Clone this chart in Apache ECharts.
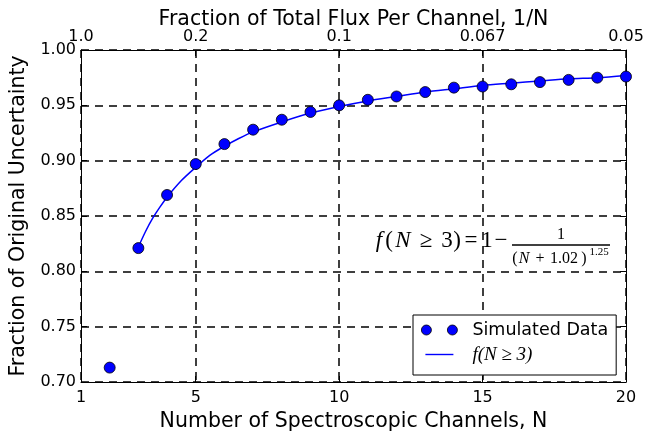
<!DOCTYPE html>
<html>
<head>
<meta charset="utf-8">
<script src="https://cdn.jsdelivr.net/npm/echarts@6/dist/echarts.min.js"></script>
<style>
html,body{margin:0;padding:0;background:#fff;}
#chart{width:646px;height:432px;}
</style>
</head>
<body>
<div id="chart"></div>
<script>
// ---- data ----
const channels = [2,3,4,5,6,7,8,9,10,11,12,13,14,15,16,17,18,19,20];
const simulated = [0.713,0.821,0.869,0.897,0.915,0.928,0.937,0.944,0.950,0.955,0.958,0.962,0.966,0.967,0.969,0.971,0.973,0.975,0.976];
const fitN = [3,3.25,3.5,3.75,4,4.5,5,5.5,6,6.5,7,8,9,10,11,12,13,14,15,16,17,18,19,20];
const fitValues = [0.822,0.836,0.848,0.858,0.867,0.882,0.894,0.905,0.913,0.920,0.926,0.935,0.943,0.949,0.954,0.958,0.962,0.965,0.968,0.970,0.972,0.974,0.975,0.977];
const bottomTicks = [1,5,10,15,20];
const topTickLabels = ['1.0','0.2','0.1','0.067','0.05'];

const FONT = 'DejaVu Sans';
const SERIF = 'Liberation Serif';
const dash = {color:'#000', width:1.5, type:[8,6]};

// formula annotation glyphs: [text, centerX, centerY, fontSize, italic]
const formulaGlyphs = [
  ['f',379,241,23,true],['(',389,241,23,false],['N',403,241,23,true],['≥',426,241,23,false],
  ['3',447,241,23,false],[')',457,241,23,false],['=',471,241,23,false],['1',487,241,23,false],['−',501,241,23,false],
  ['1',561,235,16,false],
  ['(',515,259,16,false],['N',524,259,16,true],['+',540,259,16,false],['1.02',564,259,16,false],[')',584,259,16,false],
  ['1.25',599,252,11,false]
];

function glyph(g){
  return {type:'text', z:100, style:{text:g[0], x:g[1], y:g[2], align:'center', verticalAlign:'middle',
    fontFamily:SERIF, fontSize:g[3], fontStyle:g[4]?'italic':'normal', fill:'#000'}};
}

const chart = echarts.init(document.getElementById('chart'), null, {renderer:'canvas'});
const option = {
  animation:false,
  backgroundColor:'#fff',
  grid:{left:81,right:20,top:50,bottom:50,containLabel:false,outerBoundsMode:'none'},
  xAxis:[{
    type:'value', min:1, max:20, position:'bottom',
    name:'Number of Spectroscopic Channels, N', nameLocation:'middle', nameGap:22,
    nameTextStyle:{fontFamily:FONT,fontSize:20.5,color:'#000'},
    axisLine:{show:true,lineStyle:{color:'#000',width:1}},
    axisTick:{show:true,inside:true,length:6,lineStyle:{color:'#000'},customValues:bottomTicks},
    axisLabel:{customValues:bottomTicks,fontFamily:FONT,fontSize:16,color:'#000',margin:8},
    splitLine:{show:true,lineStyle:dash}
  },{
    type:'value', min:1, max:20, position:'top',
    name:'Fraction of Total Flux Per Channel, 1/N', nameLocation:'middle', nameGap:20, nameMoveOverlap:false,
    nameTextStyle:{fontFamily:FONT,fontSize:20.5,color:'#000'},
    axisLine:{show:true,lineStyle:{color:'#000',width:1}},
    axisTick:{show:true,inside:true,length:6,lineStyle:{color:'#000'},customValues:bottomTicks},
    axisLabel:{customValues:bottomTicks,fontFamily:FONT,fontSize:16,color:'#000',margin:5,
      formatter:function(v){const i=bottomTicks.indexOf(Math.round(v));return i>=0?topTickLabels[i]:'';}},
    splitLine:{show:false}
  }],
  yAxis:[{
    type:'value', min:0.70, max:1.00, interval:0.05, position:'left',
    name:'Fraction of Original Uncertainty', nameLocation:'middle', nameGap:51,
    nameTextStyle:{fontFamily:FONT,fontSize:20.5,color:'#000'},
    axisLine:{show:true,lineStyle:{color:'#000',width:1}},
    axisTick:{show:true,inside:true,length:6,lineStyle:{color:'#000'}},
    axisLabel:{fontFamily:FONT,fontSize:16,color:'#000',margin:5,formatter:function(v){return v.toFixed(2);}},
    splitLine:{show:true,lineStyle:dash}
  },{
    type:'value', min:0.70, max:1.00, interval:0.05, position:'right',
    axisLine:{show:true,lineStyle:{color:'#000',width:1}},
    axisTick:{show:true,inside:true,length:6,lineStyle:{color:'#000'}},
    axisLabel:{show:false},
    splitLine:{show:false}
  }],
  legend:{
    left:413, top:315, orient:'vertical',
    backgroundColor:'#fff', borderColor:'#000', borderWidth:1,
    padding:[6,8,11,8], itemGap:6,
    textStyle:{fontFamily:FONT,fontSize:17.5,color:'#000',
      rich:{m:{fontFamily:SERIF,fontStyle:'italic',fontSize:19,color:'#000'}}},
    formatter:function(name){return name==='fit'?'{m|f(N ≥ 3)}':name;},
    data:[
      {name:'Simulated Data', icon:'path://M0,0M46,10M0,5a5,5 0 1,0 10,0a5,5 0 1,0 -10,0M26,5a5,5 0 1,0 10,0a5,5 0 1,0 -10,0', itemStyle:{color:'#0000ff',borderColor:'#000',borderWidth:0.8}},
      {name:'fit', icon:'path://M0,0M46,10M4,4.3H32V5.7H4Z', itemStyle:{color:'#0000ff',borderWidth:0}}
    ],
    itemWidth:46, itemHeight:10
  },
  graphic:formulaGlyphs.map(glyph).concat([
    {type:'line', z:100, shape:{x1:512,y1:245,x2:610,y2:245}, style:{stroke:'#000',lineWidth:1.3}}
  ]),
  series:[{
    name:'fit', type:'line', xAxisIndex:0, yAxisIndex:0, smooth:0.3, showSymbol:false,
    data:fitN.map((n,i)=>[n,fitValues[i]]),
    lineStyle:{color:'#0000ff',width:1.5}, itemStyle:{color:'#0000ff'}, z:3
  },{
    name:'Simulated Data', type:'scatter', xAxisIndex:0, yAxisIndex:0, symbol:'circle', symbolSize:11,
    data:channels.map((n,i)=>[n,simulated[i]]),
    itemStyle:{color:'#0000ff',borderColor:'#000',borderWidth:0.8,opacity:1}, z:4
  }]
};
chart.setOption(option);
</script>
</body>
</html>
